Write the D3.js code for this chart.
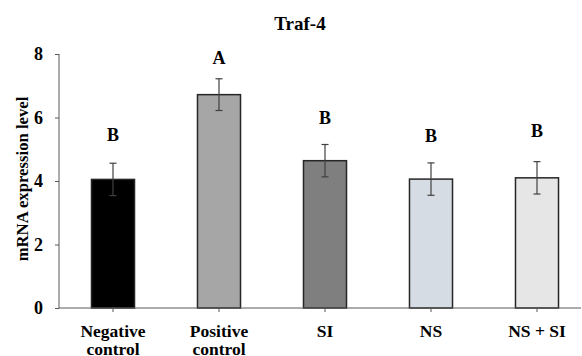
<!DOCTYPE html>
<html><head><meta charset="utf-8">
<script src="https://cdn.jsdelivr.net/npm/d3@7"></script>
<style>body{margin:0;background:#fff}</style>
</head><body><svg id="c" width="582" height="356"></svg>
<script>
const categories = ["Negative\ncontrol", "Positive\ncontrol", "SI", "NS", "NS + SI"];
const means = [4.05, 6.72, 4.64, 4.06, 4.10];
const errors = [0.51, 0.5, 0.51, 0.51, 0.51];
const letters = ["B", "A", "B", "B", "B"];
const letterLevels = [5.26, 7.69, 5.80, 5.23, 5.39];
const colors = ["#000000", "#a6a6a6", "#7f7f7f", "#d6dce4", "#e7e6e6"];
const yTicks = [0, 2, 4, 6, 8];

const svg = d3.select("#c");
const font = "'Liberation Serif','Times New Roman',serif";
const x = d3.scaleBand().domain(categories).range([60, 590]).paddingInner(0.594).paddingOuter(0.297);
const y = d3.scaleLinear().domain([0, 8]).range([308, 54]);

// y axis
const ya = svg.append("g").attr("transform", "translate(59,0)")
  .call(d3.axisLeft(y).tickValues(yTicks).tickSize(4).tickPadding(12).tickFormat(d3.format("d")));
ya.select(".domain").attr("stroke", "#595959").attr("d", "M0,54V308");
ya.selectAll(".tick line").attr("stroke", "#595959");
ya.selectAll("text").attr("font-family", font).attr("font-weight", "bold").attr("font-size", 18).attr("fill", "#000");

// bars
svg.selectAll("rect.bar").data(categories).enter().append("rect")
  .attr("x", d => x(d)).attr("width", x.bandwidth())
  .attr("y", (d, i) => y(means[i])).attr("height", (d, i) => y(0) - y(means[i]))
  .attr("fill", (d, i) => colors[i]).attr("stroke", "#262626").attr("stroke-width", 1.5);

// x axis
const xa = svg.append("g").attr("transform", "translate(0,308)")
  .call(d3.axisBottom(x).tickSize(4).tickFormat(""));
xa.select(".domain").attr("stroke", "#595959").attr("d", "M59,0H581");
xa.selectAll(".tick line").attr("stroke", "#595959");

// x labels
categories.forEach((c, i) => {
  const lines = c.split("\n");
  const cx = x(c) + x.bandwidth() / 2;
  const t = svg.append("text").attr("x", cx).attr("y", 337)
    .attr("text-anchor", "middle").attr("font-family", font).attr("font-weight", "bold")
    .attr("font-size", 17.5).attr("fill", "#000");
  lines.forEach((l, j) => t.append("tspan").attr("x", cx).attr("dy", j ? 18 : 0).text(l));
});

// error bars
const eb = svg.append("g").attr("stroke", "#404040").attr("stroke-width", 1.2);
categories.forEach((c, i) => {
  const cx = x(c) + x.bandwidth() / 2;
  const t = y(means[i] + errors[i]), b = y(means[i] - errors[i]);
  eb.append("line").attr("x1", cx).attr("x2", cx).attr("y1", t).attr("y2", b);
  eb.append("line").attr("x1", cx - 3.5).attr("x2", cx + 3.5).attr("y1", t).attr("y2", t);
  eb.append("line").attr("x1", cx - 3.5).attr("x2", cx + 3.5).attr("y1", b).attr("y2", b);
});

// letters
svg.selectAll("text.let").data(letters).enter().append("text")
  .attr("x", (d, i) => x(categories[i]) + x.bandwidth() / 2).attr("y", (d, i) => y(letterLevels[i]))
  .attr("text-anchor", "middle").attr("font-family", font).attr("font-weight", "bold")
  .attr("font-size", 18).text(d => d);

// title
svg.append("text").attr("x", 300).attr("y", 30).attr("text-anchor", "middle")
  .attr("font-family", font).attr("font-weight", "bold").attr("font-size", 19).text("Traf-4");

// y label
svg.append("text").attr("transform", "translate(28,179) rotate(-90)").attr("text-anchor", "middle")
  .attr("font-family", font).attr("font-weight", "bold").attr("font-size", 16.7).text("mRNA expression level");
</script></body></html>
